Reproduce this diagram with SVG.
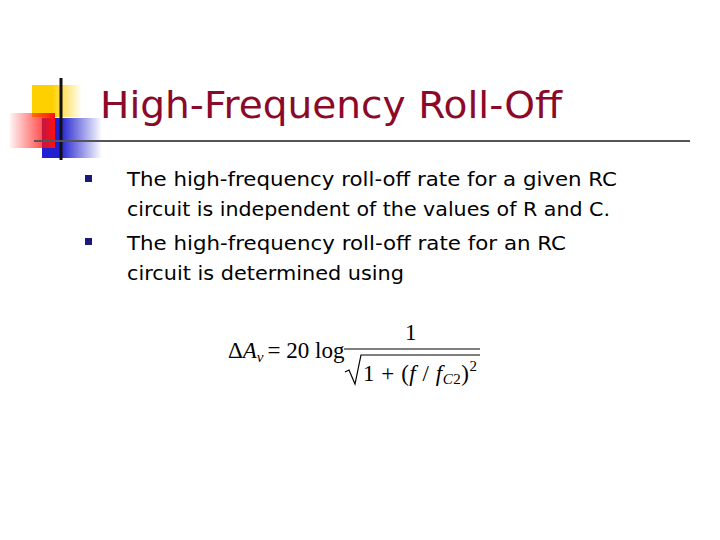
<svg xmlns="http://www.w3.org/2000/svg" width="720" height="540" viewBox="0 0 720 540">
<defs>
<linearGradient id="gy" x1="0" x2="1"><stop offset="0.4" stop-color="#FFD000"/><stop offset="1" stop-color="#FFD000" stop-opacity="0"/></linearGradient>
<linearGradient id="gr" x1="1" x2="0"><stop offset="0" stop-color="#FF1010"/><stop offset="1" stop-color="#FF1010" stop-opacity="0.05"/></linearGradient>
<linearGradient id="gb" x1="0" x2="1"><stop offset="0.3" stop-color="#2020D0"/><stop offset="1" stop-color="#2020D0" stop-opacity="0"/></linearGradient>
<style>
.b{font-family:"DejaVu Sans",Verdana,sans-serif;font-size:20px;fill:#000}
.m{font-family:"Liberation Serif","Times New Roman",serif;font-size:23px;fill:#000}
.i{font-style:italic}
</style>
</defs>
<rect width="720" height="540" fill="#fff"/>
<g id="logo">
<rect x="32" y="85" width="50" height="32" fill="url(#gy)"/>
<rect x="42" y="118" width="60" height="40" fill="url(#gb)"/>
<rect x="10" y="113" width="45" height="35" fill="url(#gr)"/>
<line x1="61" y1="78" x2="61" y2="160" stroke="#111" stroke-width="3"/>
<line x1="34" y1="141" x2="690" y2="141" stroke="#555" stroke-width="2"/>
</g>
<text x="100" y="118" font-family="DejaVu Sans,Verdana,sans-serif" font-size="38" fill="#8B0A2A" textLength="462" lengthAdjust="spacingAndGlyphs">High-Frequency Roll-Off</text>
<g id="bullets" fill="#1a1a7a">
<rect x="85" y="175" width="7" height="7"/>
<rect x="85" y="238" width="7" height="7"/>
</g>
<text class="b" x="127" y="186" textLength="490" lengthAdjust="spacingAndGlyphs">The high-frequency roll-off rate for a given RC</text>
<text class="b" x="127" y="216" textLength="483" lengthAdjust="spacingAndGlyphs">circuit is independent of the values of R and C.</text>
<text class="b" x="127" y="250" textLength="439" lengthAdjust="spacingAndGlyphs">The high-frequency roll-off rate for an RC</text>
<text class="b" x="127" y="280" textLength="277" lengthAdjust="spacingAndGlyphs">circuit is determined using</text>
<g id="formula">
<text class="m" x="228" y="358">Δ<tspan class="i">A</tspan><tspan class="i" font-size="15" dy="4">v</tspan><tspan dy="-4" dx="4">= 20 log</tspan></text>
<text class="m" x="405" y="340">1</text>
<line x1="344" y1="349" x2="480" y2="349" stroke="#000" stroke-width="1.2"/>
<path d="M345 372 L349 370 L355 384 L361 355 L480 355" fill="none" stroke="#000" stroke-width="1.2"/>
<text class="m" x="363" y="381" textLength="114">1 + (<tspan class="i">f</tspan> / <tspan class="i">f</tspan><tspan class="i" font-size="15" dy="3">C</tspan><tspan font-size="15">2</tspan><tspan dy="-3">)</tspan><tspan font-size="15" dy="-10">2</tspan></text>
</g>
</svg>
